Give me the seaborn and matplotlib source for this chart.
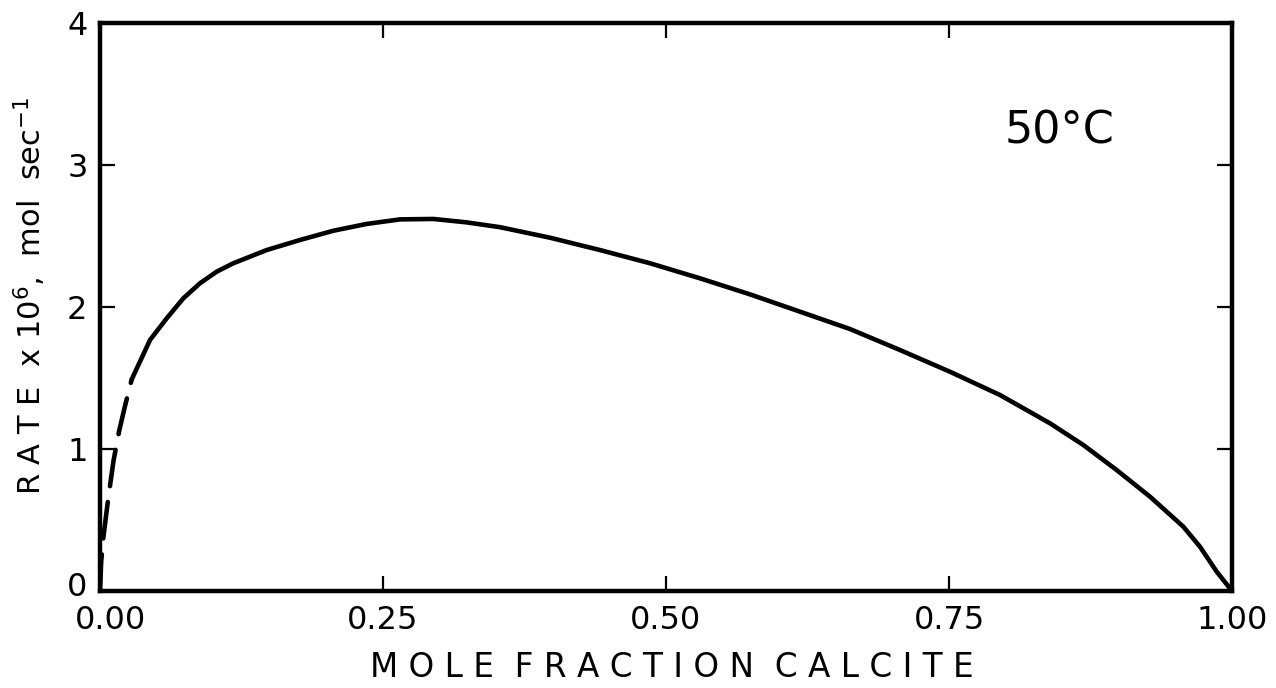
import numpy as np
import pandas as pd
import matplotlib
matplotlib.use("Agg")
import matplotlib.pyplot as plt
from matplotlib.transforms import ScaledTranslation
import seaborn as sns

# Data (mole fraction calcite vs rate x 1e6)
dash_x = [0.0, 0.001, 0.003, 0.0074, 0.012, 0.017, 0.022, 0.028]
dash_y = [0.0, 0.20, 0.38, 0.66, 0.92, 1.13, 1.30, 1.49]

solid_x = [0.028, 0.0442, 0.0589, 0.0736, 0.0883, 0.1031, 0.1178, 0.1472, 0.1767,
           0.2061, 0.2356, 0.2650, 0.2945, 0.3239, 0.3534, 0.3975, 0.4417, 0.4859,
           0.5300, 0.5742, 0.6184, 0.6625, 0.7067, 0.7509, 0.7951, 0.8392, 0.8687,
           0.8981, 0.9276, 0.9570, 0.9717, 0.9865, 1.0]
solid_y = [1.49, 1.768, 1.920, 2.061, 2.167, 2.249, 2.308, 2.401, 2.472,
           2.537, 2.585, 2.617, 2.620, 2.596, 2.562, 2.488, 2.401, 2.308,
           2.202, 2.089, 1.967, 1.845, 1.697, 1.544, 1.380, 1.181, 1.028,
           0.852, 0.664, 0.453, 0.312, 0.136, 0.0]

x_ticks = [0.0, 0.25, 0.50, 0.75, 1.00]
x_tick_labels = ["0.00", "0.25", "0.50", "0.75", "1.00"]
y_ticks = [0, 1, 2, 3, 4]
y_tick_labels = ["0", "1", "2", "3", "4"]

sns.set_style("ticks")
plt.rcParams["font.family"] = ["DejaVu Sans"]
plt.rcParams["mathtext.default"] = "regular"
plt.rcParams["text.color"] = "black"
plt.rcParams["axes.labelcolor"] = "black"

fig = plt.figure(figsize=(12.76, 6.88), dpi=100)
ax = fig.add_axes([100 / 1276, 97 / 688, 1132 / 1276, 568 / 688])

df_solid = pd.DataFrame({"x": solid_x, "y": solid_y})
df_dash = pd.DataFrame({"x": dash_x, "y": dash_y})

sns.lineplot(data=df_solid, x="x", y="y", ax=ax, color="black", lw=3.3,
             sort=False, estimator=None)
sns.lineplot(data=df_dash, x="x", y="y", ax=ax, color="black", lw=3.3,
             sort=False, estimator=None)
ax.lines[-1].set_dashes([8, 3.5])
ax.lines[-1].set_dash_capstyle("round")

ax.set_xlim(0, 1)
ax.set_ylim(0, 4)
ax.set_xticks(x_ticks)
ax.set_xticklabels(x_tick_labels)
ax.set_yticks(y_ticks)
ax.set_yticklabels(y_tick_labels)

for s in ax.spines.values():
    s.set_visible(True)
    s.set_linewidth(3.2)
    s.set_color("black")

ax.tick_params(direction="in", top=True, right=True, length=11, width=1.6,
               labelsize=23, colors="black")
ax.tick_params(axis="x", pad=10)
ax.tick_params(axis="y", pad=9)

# nudge corner labels as in the reference
lab0 = ax.get_xticklabels()[0]
lab0.set_transform(lab0.get_transform() + ScaledTranslation(0.10, 0, fig.dpi_scale_trans))
ylab0 = ax.get_yticklabels()[0]
ylab0.set_transform(ylab0.get_transform() + ScaledTranslation(0, 0.07, fig.dpi_scale_trans))

ax.set_xlabel("M O L E  F R A C T I O N  C A L C I T E", fontsize=23.5)
ax.xaxis.set_label_coords(0.505, -0.105)
ax.set_ylabel("R A T E  x 10$^6$,  mol  sec$^{-1}$", fontsize=22)
ax.yaxis.set_label_coords(-0.046, 0.52)

ax.text(0.848, 3.236, "50°C", fontsize=32, ha="center", va="center")

fig.savefig("out.png", dpi=100, facecolor="white")
